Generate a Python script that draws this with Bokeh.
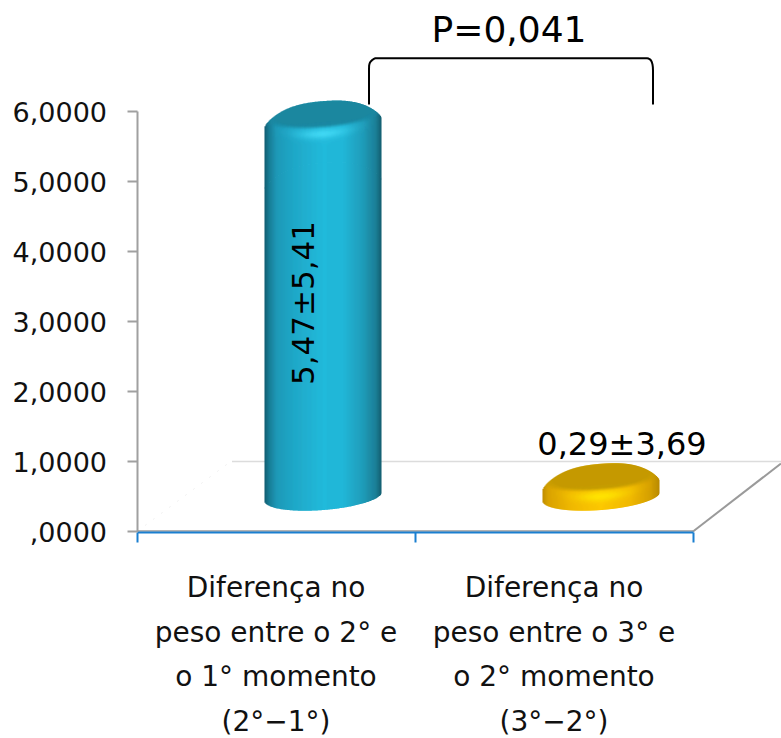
import numpy as np
from bokeh.plotting import figure
from bokeh.models import LinearAxis, FixedTicker, Range1d
from bokeh.core.properties import value
from bokeh.embed import file_html
from bokeh.resources import INLINE

# --- chart data ---
categories = [
    ["Diferença no", "peso entre o 2° e", "o 1° momento", "(2°−1°)"],
    ["Diferença no", "peso entre o 3° e", "o 2° momento", "(3°−2°)"],
]
means = [5.47, 0.29]
value_labels = ["5,47±5,41", "0,29±3,69"]
tick_values = [0, 1, 2, 3, 4, 5, 6]
tick_labels = [",0000", "1,0000", "2,0000", "3,0000", "4,0000", "5,0000", "6,0000"]
p_label = "P=0,041"

FONT = "DejaVu Sans"
W, H = 781, 738
PX = 278.0      # pixels per category
PY = 70.0       # pixels per y unit
X0, Y0 = 136.5, 531   # plot origin in figure pixels

p = figure(width=W, height=H, output_backend="svg", toolbar_location=None,
           x_axis_location=None, y_axis_location=None, min_border=0,
           x_range=Range1d(-X0 / PX, (W - X0) / PX),
           y_range=Range1d((Y0 - H) / PY, Y0 / PY))
p.grid.visible = False
p.outline_line_color = None
p.background_fill_color = "white"

# --- 3D floor ---
DEPTH_X = 95 / PX
DEPTH_Y = 71 / PY
p.line([DEPTH_X, (W - X0) / PX], [1, 1], line_color="#dcdcdc", line_width=1.5)
p.line([0, DEPTH_X], [0, DEPTH_Y], line_color="#f0f0f0", line_width=1, line_dash="2 8")
p.line([2, 2 + 88 / PX], [0, 68 / PY], line_color="#9a9a9a", line_width=2)
p.line([0, 2], [0.007, 0.007], line_color="#9a9a9a", line_width=1.5)


def mix(a, b, t):
    return a + (b - a) * t


def hexcol(c):
    c = np.clip(np.round(c / 3) * 3, 0, 255).astype(int)
    return "#%02x%02x%02x" % tuple(c)


def rgb(s):
    return np.array([int(s[i:i + 2], 16) for i in (1, 3, 5)], float)


BLUE = dict(stops=[-1, -.93, -.8, -.5, 0, .35, .7, .9, 1],
            cols=["#125b70", "#177a92", "#1d98b6", "#1fa8c8", "#22b9da", "#22b6d7", "#1f9ab7", "#1b7f97", "#145c6e"],
            lid="#1a87a0", hi="#45dcf7")
GOLD = dict(stops=[-1, -.9, -.5, 0, .5, .85, 1],
            cols=["#c08e00", "#d9a300", "#f0b800", "#fcc800", "#f0b800", "#d49f00", "#b88a00"],
            lid="#c59a00", hi="#ffe800")

A, B, SLOPE = 58.5, 13.0, 4.5 / 58.5
LID_A, LID_B = 52.0, 12.5
CX_OFF = 0.669
FOOT = 35.0     # pixels the foot-centre sits above the axis


def cylinder(i, v, sty):
    stops = sty["stops"]
    cols = np.array([rgb(c) for c in sty["cols"]])
    lid, hi = rgb(sty["lid"]), rgb(sty["hi"])
    xc = i + CX_OFF
    h_px = v * PY
    l, r, t, b, c = [], [], [], [], []
    for dx in np.arange(-A, A, 1.0):
        X = dx + .5
        u = X / A
        base = np.array([np.interp(u, stops, cols[:, k]) for k in range(3)])
        s = np.sqrt(max(1 - u * u, 0))
        cline = SLOPE * X
        floor = cline - (B + .5) * s
        sil = h_px + cline + (B - .5) * s - 10 * abs(u) ** 3
        stop = max(floor, sil - 62)
        wid = 1.6 if dx < A - 1 else 1.0
        run_col, run_top = None, sil
        yy = sil
        while yy > stop:
            rel = yy - .5 - (h_px + cline)
            rr = np.sqrt((X / LID_A) ** 2 + (rel / LID_B) ** 2)
            col = mix(lid, base, np.clip((rr - .93) / .28, 0, 1))
            if rel < 0:
                arc = LID_B * np.sqrt(max(1 - (X / LID_A) ** 2, 0))
                d = -rel - arc
                col = mix(col, hi, 0.85 * np.exp(-((d - 7.5) / 5.0) ** 2) * np.exp(-(u / 0.42) ** 2))
            h = hexcol(col)
            if h != run_col:
                if run_col is not None:
                    l.append(dx); r.append(dx + wid); t.append(run_top); b.append(max(yy - 1, floor)); c.append(run_col)
                run_col, run_top = h, yy
            yy -= 1.0
        l.append(dx); r.append(dx + wid); t.append(run_top); b.append(stop); c.append(run_col)
        if stop > floor:
            l.append(dx); r.append(dx + wid); t.append(stop + .5); b.append(floor); c.append(hexcol(base))
    foot = FOOT / PY
    p.quad(left=xc + np.array(l) / PX, right=xc + np.array(r) / PX,
           top=foot + np.array(t) / PY, bottom=foot + np.array(b) / PY,
           fill_color=c, line_color=None)


cylinder(0, means[0], BLUE)
cylinder(1, means[1], GOLD)

# --- axes ---
ya = LinearAxis(fixed_location=0, bounds=(0, 6), ticker=FixedTicker(ticks=tick_values),
                major_label_overrides={t: s for t, s in zip(tick_values, tick_labels)})
ya.axis_line_color = "#a0a0a0"; ya.axis_line_width = 2
ya.major_tick_line_color = "#a0a0a0"; ya.major_tick_line_width = 2
ya.major_tick_in = 0; ya.major_tick_out = 10
ya.minor_tick_line_color = None
ya.major_label_standoff = 20
ya.major_label_text_font = FONT; ya.major_label_text_font_size = "27px"; ya.major_label_text_color = "#111111"
p.add_layout(ya, "left")

xa = LinearAxis(fixed_location=-1 / PY, bounds=(0, 2), ticker=FixedTicker(ticks=[0, 1, 2]),
                major_label_overrides={0: "", 1: "", 2: ""})
xa.axis_line_color = "#1a7fd0"; xa.axis_line_width = 2
xa.major_tick_line_color = "#1a7fd0"; xa.major_tick_line_width = 2
xa.major_tick_in = 0; xa.major_tick_out = 10
xa.minor_tick_line_color = None
p.add_layout(xa, "below")

# --- category labels ---
xs, ys, txt = [], [], []
LINE = 44.7
for i, lines in enumerate(categories):
    for j, s in enumerate(lines):
        xs.append(i + 0.5)
        ys.append(-(56 + j * LINE) / PY)
        txt.append(s)
p.text(xs, ys, text=txt, text_align="center", text_baseline="middle",
       text_font=value(FONT), text_font_size="28px", text_color="#111111")

# --- value labels ---
p.text([CX_OFF - 20 / PX], [means[0] / 2 + 37 / PY], text=[value_labels[0]], angle=np.pi / 2,
       text_align="center", text_baseline="middle", text_font=value(FONT),
       text_font_size="31px", text_color="black")
p.text([1 + CX_OFF + 21 / PX], [means[1] + 67 / PY], text=[value_labels[1]],
       text_align="center", text_baseline="middle", text_font=value(FONT),
       text_font_size="32px", text_color="black")

# --- significance bracket ---
bx0, bx1 = CX_OFF + 46 / PX, 1 + CX_OFF + 52 / PX
by0, by1 = 6.1, 6.76
rx, ry = 6 / PX, 12 / PY
tt = np.linspace(0, 1, 8)
bxs = np.concatenate([[bx0], bx0 + rx * tt ** 2, bx1 - rx * (1 - tt) ** 2, [bx1]])
bys = np.concatenate([[by0], (by1 - ry) + ry * tt ** 0.5, by1 - ry * tt ** 2, [by0]])
p.line(bxs, bys, line_color="black", line_width=2)
p.text([(bx0 + bx1) / 2 - 2 / PX], [by1 + 29 / PY], text=[p_label], text_align="center", text_baseline="middle",
       text_font=value(FONT), text_font_size="36px", text_color="black")

open("out.html", "w").write(file_html(p, INLINE))
